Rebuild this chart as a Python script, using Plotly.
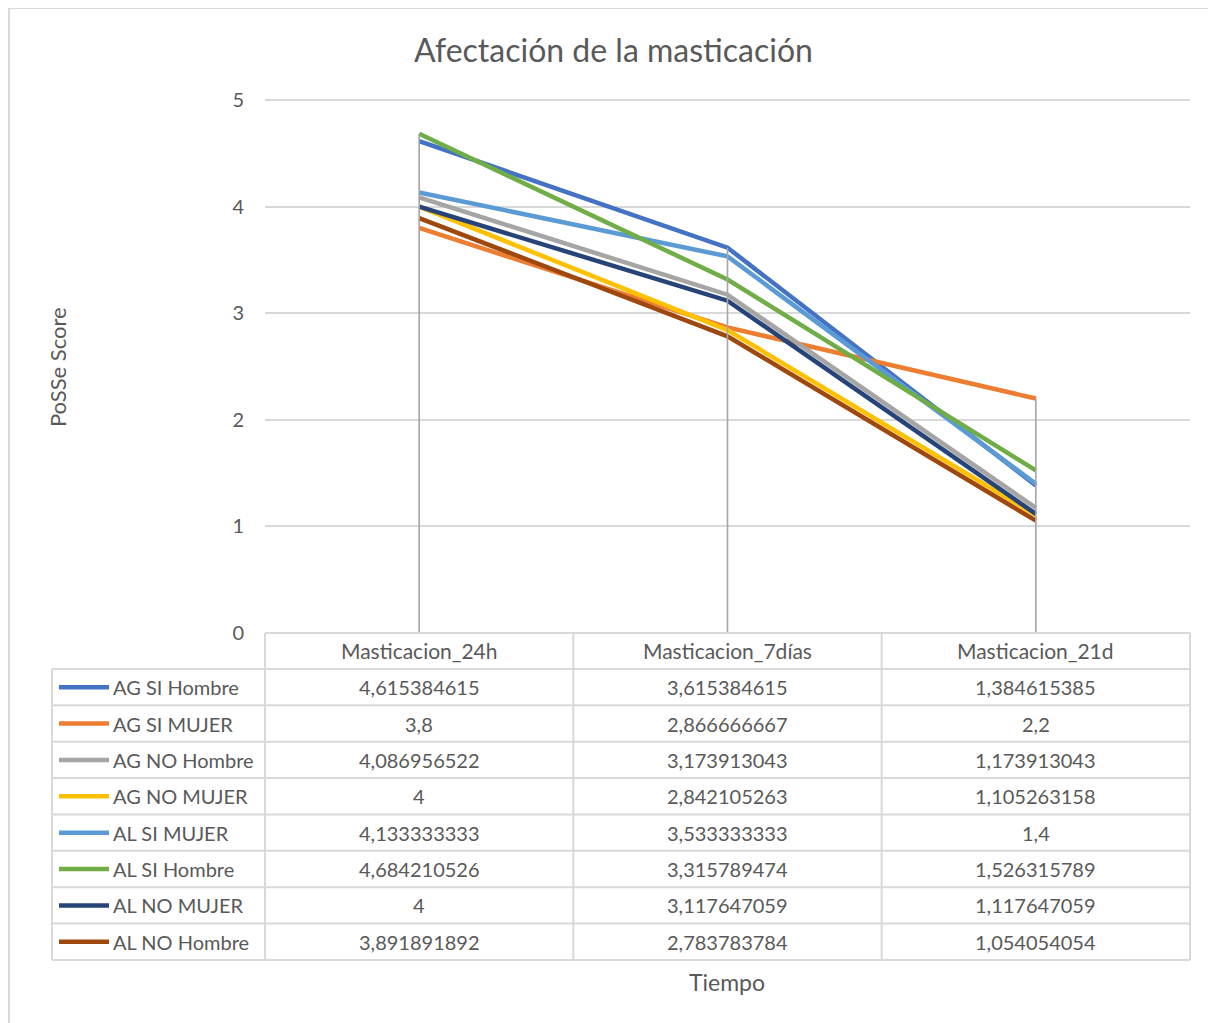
import plotly.graph_objects as go

categories = ["Masticacion_24h", "Masticacion_7días", "Masticacion_21d"]
series_names = ["AG SI Hombre", "AG SI MUJER", "AG NO Hombre", "AG NO MUJER",
                "AL SI MUJER", "AL SI Hombre", "AL NO MUJER", "AL NO Hombre"]
ag_si_hombre = [4.615384615, 3.615384615, 1.384615385]
ag_si_mujer = [3.8, 2.866666667, 2.2]
ag_no_hombre = [4.086956522, 3.173913043, 1.173913043]
ag_no_mujer = [4, 2.842105263, 1.105263158]
al_si_mujer = [4.133333333, 3.533333333, 1.4]
al_si_hombre = [4.684210526, 3.315789474, 1.526315789]
al_no_mujer = [4, 3.117647059, 1.117647059]
al_no_hombre = [3.891891892, 2.783783784, 1.054054054]
y_ticks = [0, 1, 2, 3, 4, 5]

series_values = [ag_si_hombre, ag_si_mujer, ag_no_hombre, ag_no_mujer,
                 al_si_mujer, al_si_hombre, al_no_mujer, al_no_hombre]
colors = ["#4472C4", "#ED7D31", "#A5A5A5", "#FFC000",
          "#5B9BD5", "#70AD47", "#264478", "#9E480E"]

OFF = 8  # page body margin
W, H = 1216 - OFF, 1023 - OFF
YMAX = 5.01
# target page pixel positions (reference), converted to figure coords
L, R, B = 265 - OFF, 1190 - OFF, 633 - OFF
Y5 = 100 - OFF
T = B - (B - Y5) * YMAX / 5
FONT = "Lato"
TXT = "#595959"
GRID = "#d9d9d9"


def px(p):
    return (p - OFF - L) / (R - L)


def py(p):
    return (B - (p - OFF)) / (B - T)


def fmt(v):
    return f"{v:.10g}".replace(".", ",")


fig = go.Figure()
for name, vals, c in zip(series_names, series_values, colors):
    fig.add_trace(go.Scatter(x=categories, y=vals, name=name, mode="lines",
                             line=dict(color=c, width=4.5), showlegend=False,
                             cliponaxis=False))

# drop lines from highest point of each category to axis
dx, dy = [], []
for j, cat in enumerate(categories):
    top = max(s[j] for s in series_values)
    dx += [cat, cat, None]
    dy += [0, top, None]
fig.add_trace(go.Scatter(x=dx, y=dy, mode="lines", line=dict(color="#A5A5A5", width=1.6),
                         showlegend=False, hoverinfo="skip"))

shapes = []
annotations = []

# outer border (page coords)
shapes.append(dict(type="line", xref="paper", yref="paper", x0=px(8), x1=px(1216), y0=py(8), y1=py(8),
                   line=dict(color=GRID, width=2)))
shapes.append(dict(type="line", xref="paper", yref="paper", x0=px(9), x1=px(9), y0=py(8), y1=py(1023),
                   line=dict(color=GRID, width=2)))

# table geometry (page coords)
col_edges = [265 + k * (1190 - 265) / 3 for k in range(4)]
label_left = 52
head_top = 633
row_top = 669
n = len(series_names)
row_h = (960 - row_top) / n
row_edges = [row_top + i * row_h for i in range(n + 1)]

tline = dict(color=GRID, width=2)
shapes.append(dict(type="line", xref="paper", yref="paper", x0=px(265), x1=px(1190), y0=py(head_top), y1=py(head_top), line=tline))
for ye in row_edges:
    shapes.append(dict(type="line", xref="paper", yref="paper", x0=px(label_left), x1=px(1190), y0=py(ye), y1=py(ye), line=tline))
shapes.append(dict(type="line", xref="paper", yref="paper", x0=px(label_left), x1=px(label_left), y0=py(row_top), y1=py(row_edges[-1]), line=tline))
for xe in col_edges:
    shapes.append(dict(type="line", xref="paper", yref="paper", x0=px(xe), x1=px(xe), y0=py(head_top), y1=py(row_edges[-1]), line=tline))

tfont = dict(family=FONT, size=20, color=TXT)
hfont = dict(family=FONT, size=21, color=TXT)
for j, cat in enumerate(categories):
    xc = (col_edges[j] + col_edges[j + 1]) / 2
    annotations.append(dict(xref="paper", yref="paper", x=px(xc), y=py((head_top + row_top) / 2),
                            text=cat, showarrow=False, font=hfont, xanchor="center", yanchor="middle"))
for i, (name, vals, c) in enumerate(zip(series_names, series_values, colors)):
    yc = (row_edges[i] + row_edges[i + 1]) / 2
    shapes.append(dict(type="line", xref="paper", yref="paper", x0=px(59), x1=px(109), y0=py(yc), y1=py(yc),
                       line=dict(color=c, width=4.5)))
    annotations.append(dict(xref="paper", yref="paper", x=px(111), y=py(yc), text=name, showarrow=False,
                            font=tfont, xanchor="left", yanchor="middle"))
    for j, v in enumerate(vals):
        xc = (col_edges[j] + col_edges[j + 1]) / 2
        annotations.append(dict(xref="paper", yref="paper", x=px(xc), y=py(yc), text=fmt(v), showarrow=False,
                                font=tfont, xanchor="center", yanchor="middle"))

# titles
annotations.append(dict(xref="paper", yref="paper", x=px(613), y=py(49), text="Afectación de la masticación",
                        showarrow=False, font=dict(family=FONT, size=32, color=TXT), xanchor="center", yanchor="middle"))
annotations.append(dict(xref="paper", yref="paper", x=px(57), y=py(367), text="PoSSe Score", textangle=-90,
                        showarrow=False, font=dict(family=FONT, size=22, color=TXT), xanchor="center", yanchor="middle"))
annotations.append(dict(xref="paper", yref="paper", x=px(727), y=py(982), text="Tiempo",
                        showarrow=False, font=dict(family=FONT, size=23, color=TXT), xanchor="center", yanchor="middle"))

fig.update_layout(
    width=W, height=H,
    margin=dict(l=L, r=W - R, t=T, b=H - B, pad=0),
    paper_bgcolor="white", plot_bgcolor="white",
    shapes=shapes, annotations=annotations,
    xaxis=dict(type="category", range=[-0.5, 2.5], showticklabels=False, showgrid=False,
               zeroline=False, showline=False, ticks=""),
    yaxis=dict(range=[0, YMAX], tickvals=y_ticks, showgrid=True, gridcolor=GRID, gridwidth=2,
               zeroline=False, showline=False, ticks="", ticklabelstandoff=20,
               tickfont=dict(family=FONT, size=20, color=TXT)),
    font=dict(family=FONT, color=TXT),
)

fig.write_html("out.html")
